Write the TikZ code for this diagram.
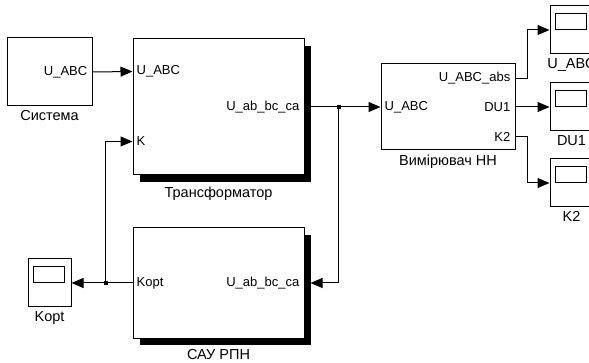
\documentclass[tikz,border=0pt]{standalone}
\usepackage{fontspec}
\setmainfont{Liberation Sans}
\usetikzlibrary{arrows.meta,shadows}

\tikzset{
  block/.style={draw,fill=white,line width=1pt,inner sep=0pt},
  shadowblock/.style={block,general shadow={fill=black,shadow xshift=7pt,shadow yshift=-7pt}},
  scopebox/.style={block,minimum width=43pt,minimum height=48pt,
    path picture={\draw[line width=1pt] ([xshift=5pt,yshift=-8pt]path picture bounding box.north west) rectangle ++(31pt,-16pt);}},
  inport/.style={anchor=west,inner sep=0pt,xshift=4pt,font=\fontsize{13}{15}\selectfont},
  outport/.style={anchor=east,inner sep=0pt,xshift=-5pt,font=\fontsize{13}{15}\selectfont},
  caption/.style={below=4pt,inner sep=0pt,font=\fontsize{14.5}{17}\selectfont},
  sig/.style={line width=1pt,-{Triangle[length=12pt,width=10pt]}}
}

\begin{document}
\begin{tikzpicture}[x=1pt,y=-1pt]
  \useasboundingbox (0,0) rectangle (589,363);
  \clip (0,0) rectangle (589,363);
  % blocks
  \node[block,minimum width=85pt,minimum height=68pt] (sys) at (49.5,72) {};
  \node[shadowblock,minimum width=171pt,minimum height=136pt] (trans) at (218.5,107) {};
  \node[block,minimum width=134pt,minimum height=86pt] (meas) at (448,107) {};
  \node[shadowblock,minimum width=171pt,minimum height=110pt] (sau) at (218.5,283) {};
  % scopes
  \node[scopebox] (scA) at (571.5,30) {};
  \node[scopebox] (scB) at (571.5,107) {};
  \node[scopebox] (scC) at (571.5,183) {};
  \node[scopebox] (scK) at (49.5,283) {};
  % ports
  \coordinate (trans-in) at ([yshift=-33pt]trans.north west);
  \coordinate (trans-k) at ([yshift=34pt]trans.south west);
  \coordinate (meas-abs) at ([yshift=-15pt]meas.north east);
  \coordinate (meas-k2) at ([yshift=14pt]meas.south east);
  \node[outport] at (sys.east) {U\_ABC};
  \node[inport] at (trans-in) {U\_ABC};
  \node[inport] at (trans-k) {K};
  \node[outport] at (trans.east) {U\_ab\_bc\_ca};
  \node[inport] at (meas.west) {U\_ABC};
  \node[outport] at (meas-abs) {U\_ABC\_abs};
  \node[outport] at (meas.east) {DU1};
  \node[outport] at (meas-k2) {K2};
  \node[inport] at (sau.west) {Kopt};
  \node[outport] at (sau.east) {U\_ab\_bc\_ca};
  % captions
  \node[caption] at (sys.south) {Система};
  \node[caption] at ([yshift=-7pt]trans.south) {Трансформатор};
  \node[caption] at (meas.south) {Вимірювач НН};
  \node[caption] at ([yshift=-7pt]sau.south) {САУ РПН};
  \node[caption] at (scA.south) {U\_ABC};
  \node[caption] at (scB.south) {DU1};
  \node[caption] at (scC.south) {K2};
  \node[caption] at (scK.south) {Kopt};
  % signals
  \coordinate (j1) at ([xshift=34pt]trans.east);
  \coordinate (j2) at ([xshift=-27pt]sau.west);
  \draw[sig] (sys.east) -- (trans-in);
  \draw[sig] (trans.east) -- (meas.west);
  \draw[sig] (meas-abs) -- ++(12,0) |- (scA.west);
  \draw[sig] (meas.east) -- (scB.west);
  \draw[sig] (meas-k2) -- ++(12,0) |- (scC.west);
  \draw[sig] (j1) |- ([xshift=6pt]sau.east);
  \draw[sig] (sau.west) -- (scK.east);
  \draw[sig] (j2) |- (trans-k);
  \fill (j1) +(-2,-2) rectangle +(2,2);
  \fill (j2) +(-2,-2) rectangle +(2,2);
\end{tikzpicture}
\end{document}
